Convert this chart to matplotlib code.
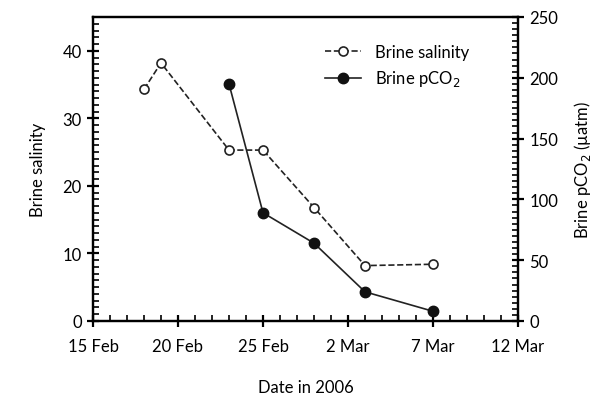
import matplotlib
matplotlib.use("Agg")
import matplotlib.pyplot as plt
import matplotlib.dates as mdates
import pandas as pd
from matplotlib.ticker import MultipleLocator

sal_dates = ["2006-02-18", "2006-02-19", "2006-02-23", "2006-02-25", "2006-02-28", "2006-03-03", "2006-03-07"]
salinity = [34.3, 38.2, 25.3, 25.3, 16.8, 8.2, 8.4]
pco2_dates = ["2006-02-23", "2006-02-25", "2006-02-28", "2006-03-03", "2006-03-07"]
pco2 = [195, 89, 64, 24, 8]
tick_dates = ["2006-02-15", "2006-02-20", "2006-02-25", "2006-03-02", "2006-03-07", "2006-03-12"]
tick_labels = ["15 Feb", "20 Feb", "25 Feb", "2 Mar", "7 Mar", "12 Mar"]

plt.rcParams['font.family'] = ['Lato', 'DejaVu Sans']
fig = plt.figure(figsize=(6.15, 4.10), dpi=100)
ax = fig.add_axes([93/615, 1-322/410, (518-93)/615, (322-18)/410])
ax2 = ax.twinx()

sd = pd.to_datetime(sal_dates)
pd_ = pd.to_datetime(pco2_dates)
l1, = ax.plot(sd, salinity, '--', color='#222', lw=1.2, marker='o', mfc='white', mec='#222', mew=1.2, ms=6.5, label='Brine salinity')
l2, = ax2.plot(pd_, pco2, '-', color='#222', lw=1.2, marker='o', mfc='#111', mec='#111', ms=7.5, label='Brine pCO$_2$')

td = pd.to_datetime(tick_dates)
ax.set_xlim(td[0], td[-1])
ax.set_xticks(td)
ax.set_xticklabels(tick_labels, fontsize=12)
ax.xaxis.set_minor_locator(mdates.DayLocator())
ax.set_ylim(0, 45)
ax.yaxis.set_major_locator(MultipleLocator(10))
ax.yaxis.set_minor_locator(MultipleLocator(1))
ax2.set_ylim(0, 250)
ax2.yaxis.set_major_locator(MultipleLocator(50))
ax2.yaxis.set_minor_locator(MultipleLocator(5))
for a in (ax, ax2):
    a.tick_params(which='major', direction='inout', length=9, width=1.6, labelsize=12)
    a.tick_params(which='minor', direction='in', length=4, width=1.2)
    for s in a.spines.values():
        s.set_linewidth(1.6)
ax.tick_params(axis='x', pad=8)
ax.set_ylabel('Brine salinity', fontsize=12, labelpad=12)
ax2.set_ylabel('Brine pCO$_2$ (µatm)', fontsize=12, labelpad=10)
ax.set_xlabel('Date in 2006', fontsize=12, labelpad=18)
ax.legend([l1, l2], ['Brine salinity', 'Brine pCO$_2$'], loc='upper right', frameon=False,
          fontsize=12, bbox_to_anchor=(0.92, 0.96), handlelength=2.2)
fig.savefig('out.png', dpi=100)
